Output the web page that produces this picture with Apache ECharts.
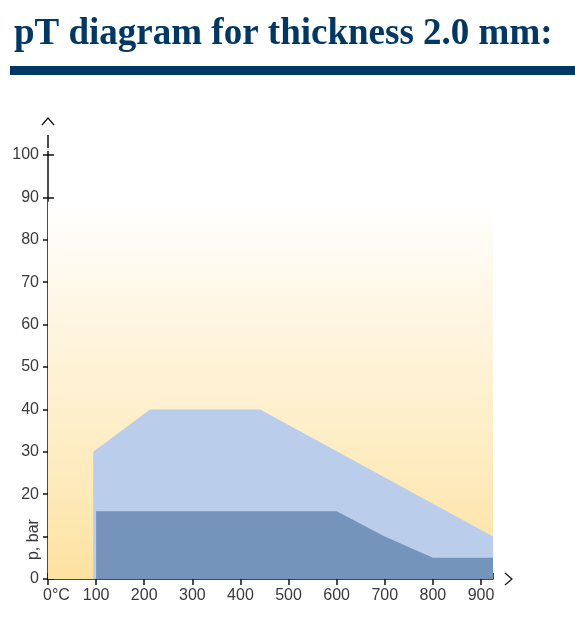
<!DOCTYPE html>
<html>
<head>
<meta charset="utf-8">
<script src="https://cdn.jsdelivr.net/npm/echarts@6/dist/echarts.min.js"></script>
<style>
  html, body { margin: 0; padding: 0; background: #fff; }
  #chart { width: 575px; height: 621px; }
</style>
</head>
<body>
<div id="chart"></div>
<script>
// ── Datos del diagrama pT ───────────────────────────────────────────────
const TITLE = 'pT diagram for thickness 2.0 mm:';
const X_MAX = 925;
const Y_MAX = 100;
// límite exterior (azul claro): [T °C, p bar]
const outerTemp = [94, 94, 212, 441, 925];
const outerPres = [0, 30, 40, 40, 10];
// límite interior (azul oscuro)
const innerTemp = [100, 100, 600, 700, 800, 925];
const innerPres = [0, 16, 16, 10, 5, 5];
// fondo degradado
const bgTemp = [0, 925];
const bgPres = [89, 89];

const NAVY = '#003865';
const AXIS = '#111';
const LABEL = '#3a3a3a';

const pairs = (xs, ys) => xs.map((x, i) => [x, ys[i]]);

const chart = echarts.init(document.getElementById('chart'), null, { renderer: 'canvas' });

const labelFont = { fontFamily: 'Liberation Sans, Arial, sans-serif', fontSize: 16, color: LABEL };

const xBase = {
  type: 'value', min: 0, max: X_MAX, interval: 100,
  splitLine: { show: false },
};
const yBase = {
  type: 'value', min: 0, max: Y_MAX, interval: 10,
  splitLine: { show: false },
};

chart.setOption({
  animation: false,
  title: {
    text: TITLE,
    left: 9, top: 11,
    textStyle: { fontFamily: 'Liberation Serif, serif', fontWeight: 'bold', fontSize: 37, color: NAVY },
  },
  grid: { left: 48, right: 82, top: 155, bottom: 42 },
  xAxis: [
    {
      ...xBase,
      axisLine: { lineStyle: { color: AXIS, width: 1.5 } },
      axisTick: { length: 6, lineStyle: { color: AXIS, width: 1.5 } },
      axisLabel: {
        ...labelFont, margin: 9, showMaxLabel: false,
        formatter: v => v === 0 ? '{a|0°C}' : (v === X_MAX ? '' : String(v)),
        rich: { a: { ...labelFont, padding: [0, 0, 0, 17] } },
      },
    },
    {
      ...xBase,
      position: 'bottom',
      axisLine: { show: false },
      axisTick: { inside: true, length: 6, lineStyle: { color: AXIS, width: 1.5 } },
      axisLabel: { show: false },
    },
  ],
  yAxis: [
    {
      ...yBase,
      axisLine: { show: true, lineStyle: { color: AXIS, width: 1.5 } },
      axisTick: { show: true, length: 5, lineStyle: { color: AXIS, width: 1.5 } },
      axisLabel: { ...labelFont, margin: 9, formatter: v => v === 10 ? '' : String(v) },
    },
    {
      ...yBase,
      position: 'left',
      axisLine: { show: false },
      axisTick: { show: true, inside: true, length: 6, lineStyle: { color: AXIS, width: 1.5 } },
      axisLabel: { show: false },
    },
  ],
  series: [
    {
      type: 'line', data: pairs(bgTemp, bgPres), symbol: 'none', silent: true, z: 1,
      lineStyle: { width: 0 },
      areaStyle: {
        opacity: 1,
        color: new echarts.graphic.LinearGradient(0, 0, 0, 1, [
          { offset: 0, color: 'rgba(255,255,255,1)' },
          { offset: 0.3, color: '#fff6e2' },
          { offset: 0.7, color: '#feecc0' },
          { offset: 1, color: '#fde2a0' },
        ]),
      },
    },
    {
      type: 'line', data: pairs(outerTemp, outerPres), symbol: 'none', z: 2,
      lineStyle: { width: 0 },
      areaStyle: { color: '#bacdea', opacity: 1 },
    },
    {
      type: 'line', data: pairs(innerTemp, innerPres), symbol: 'none', z: 3,
      lineStyle: { width: 0 },
      areaStyle: { color: '#7594bb', opacity: 1 },
    },
  ],
});

// ── Decoración: barra del título, flechas de ejes, nombre del eje p ─────
const o = chart.convertToPixel({ xAxisIndex: 0, yAxisIndex: 0 }, [0, 0]);
const xEnd = chart.convertToPixel({ xAxisIndex: 0, yAxisIndex: 0 }, [X_MAX, 0]);
const yTop = chart.convertToPixel({ xAxisIndex: 0, yAxisIndex: 0 }, [0, Y_MAX]);
const pLab = chart.convertToPixel({ xAxisIndex: 0, yAxisIndex: 0 }, [0, 9.3]);
const ax = o[0], ay = o[1];

chart.setOption({
  graphic: [
    { type: 'rect', shape: { x: 10, y: 66, width: 565, height: 9 }, style: { fill: NAVY } },
    // extensión vertical discontinua y flecha
    { type: 'line', shape: { x1: ax, y1: yTop[1] - 4, x2: ax, y2: yTop[1] }, style: { stroke: AXIS, lineWidth: 1.5 } },
    { type: 'line', shape: { x1: ax, y1: yTop[1] - 20, x2: ax, y2: yTop[1] - 7 }, style: { stroke: AXIS, lineWidth: 1.5 } },
    { type: 'polyline', shape: { points: [[ax - 6, yTop[1] - 30], [ax, yTop[1] - 37], [ax + 6, yTop[1] - 30]] },
      style: { stroke: AXIS, lineWidth: 1.2, fill: null } },
    // flecha horizontal
    { type: 'polyline', shape: { points: [[xEnd[0] + 12, ay - 6], [xEnd[0] + 19, ay], [xEnd[0] + 12, ay + 6]] },
      style: { stroke: AXIS, lineWidth: 1.2, fill: null } },
    { type: 'text', x: pLab[0] - 14, y: pLab[1], rotation: Math.PI / 2,
      style: { text: 'p, bar', ...labelFont, fill: LABEL, align: 'center', verticalAlign: 'middle' } },
  ],
});
</script>
</body>
</html>
